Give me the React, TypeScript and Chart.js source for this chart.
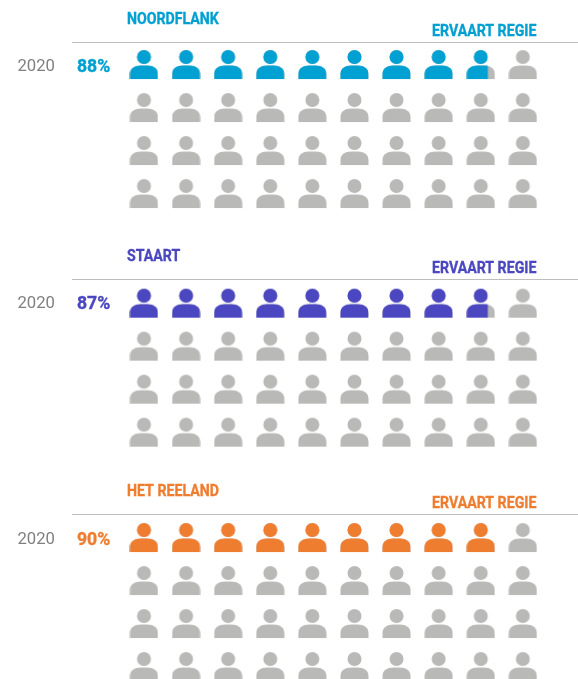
import React, { useEffect, useRef } from "react";
import { Chart, registerables } from "chart.js";

Chart.register(...registerables);

const sectionNames = ["NOORDFLANK", "STAART", "HET REELAND"];
const years = ["2020", "2020", "2020"];
const percents = [88, 87, 90];
const filledIcons = [8.75, 8.75, 9];
const measureLabel = "ERVAART REGIE";
const columns = [0, 1, 2, 3, 4, 5, 6, 7, 8, 9];
const rows = [0, 1, 2, 3];

const COLORS = ["#00a0d2", "#4a47c0", "#ef7d2f"];
const GREY = "#b9b9b7";
const SECTION_ROW_OFFSET = [0, 5.55, 11];
const LINE_Y = [42.5, 279.5, 514.5];
const TITLE_BASE = [24.3, 260.6, 496.3];
const MEASURE_BASE = [36.3, 272.6, 508.3];
const VALUE_BASE = [72, 309, 544.8];
const FONT = "Roboto, sans-serif";

function personPath(c: CanvasRenderingContext2D) {
  c.beginPath();
  c.arc(14.5, 8, 7, 0, Math.PI * 2);
  c.closePath();
  c.moveTo(0.5, 30);
  c.lineTo(0.5, 25);
  c.bezierCurveTo(0.5, 19.5, 5, 16.6, 11, 16.6);
  c.lineTo(18, 16.6);
  c.bezierCurveTo(24, 16.6, 28.5, 19.5, 28.5, 25);
  c.lineTo(28.5, 30);
  c.closePath();
}

function makeIcon(color: string, fraction: number) {
  const cv = document.createElement("canvas");
  cv.width = 29;
  cv.height = 31;
  const c = cv.getContext("2d")!;
  personPath(c);
  c.fillStyle = GREY;
  c.fill();
  if (fraction > 0) {
    c.save();
    c.beginPath();
    c.rect(0, 0, 0.5 + 28 * fraction, 31);
    c.clip();
    personPath(c);
    c.fillStyle = color;
    c.fill();
    c.restore();
  }
  return cv;
}

function condensedText(
  c: CanvasRenderingContext2D,
  text: string,
  x: number,
  y: number,
  font: string,
  color: string,
  scaleX: number,
  weightStroke = 0
) {
  c.save();
  c.font = font;
  c.fillStyle = color;
  c.strokeStyle = color;
  c.textAlign = "left";
  c.textBaseline = "alphabetic";
  c.translate(x, y);
  c.scale(scaleX, 1);
  c.fillText(text, 0, 0);
  if (weightStroke > 0) {
    c.lineWidth = weightStroke;
    c.strokeText(text, 0, 0);
  }
  c.restore();
}

const labelsPlugin = {
  id: "sectionLabels",
  afterDraw(chart: any) {
    const c: CanvasRenderingContext2D = chart.ctx;
    sectionNames.forEach((name, s) => {
      c.save();
      c.strokeStyle = "#bdbdbd";
      c.lineWidth = 1;
      c.beginPath();
      c.moveTo(72, LINE_Y[s]);
      c.lineTo(578, LINE_Y[s]);
      c.stroke();
      c.restore();
      condensedText(c, name, 127, TITLE_BASE[s], `700 16px ${FONT}`, COLORS[s], 0.885, 0.35);
      condensedText(c, measureLabel, 432, MEASURE_BASE[s], `700 16px ${FONT}`, COLORS[s], 0.885, 0.35);
      condensedText(c, years[s], 17.5, VALUE_BASE[s] - 0.8, `400 17px ${FONT}`, "#808080", 0.98);
      condensedText(c, `${percents[s]}%`, 77, VALUE_BASE[s], `700 18px ${FONT}`, COLORS[s], 0.98, 0.35);
    });
  },
};

export default function App() {
  const ref = useRef<HTMLCanvasElement>(null);
  useEffect(() => {
    const datasets = sectionNames.map((name, s) => {
      const points: { x: number; y: number }[] = [];
      const icons: HTMLCanvasElement[] = [];
      rows.forEach((r) =>
        columns.forEach((col) => {
          const position = r * columns.length + col;
          const fraction = Math.max(0, Math.min(1, filledIcons[s] - position));
          points.push({ x: col, y: r + SECTION_ROW_OFFSET[s] });
          icons.push(makeIcon(COLORS[s], fraction));
        })
      );
      return {
        label: name,
        data: points,
        pointStyle: icons,
        showLine: false,
        clip: false as any,
      };
    });
    const chart = new Chart(ref.current!, {
      type: "scatter",
      data: { datasets: datasets as any },
      options: {
        animation: false,
        responsive: false,
        layout: { padding: 0, autoPadding: false },
        plugins: { legend: { display: false }, tooltip: { enabled: false }, title: { display: false } },
        scales: {
          x: { type: "linear", display: false, min: -3.42, max: 10.31 },
          y: { type: "linear", display: false, reverse: true, min: -1.5, max: 14.29 },
        },
      },
      plugins: [labelsPlugin],
    });
    return () => chart.destroy();
  }, []);
  return (
    <div style={{ position: "absolute", left: 0, top: 0, width: 578, height: 679, overflow: "hidden", background: "#fff" }}>
      <canvas ref={ref} width={578} height={679} style={{ display: "block" }} />
    </div>
  );
}
